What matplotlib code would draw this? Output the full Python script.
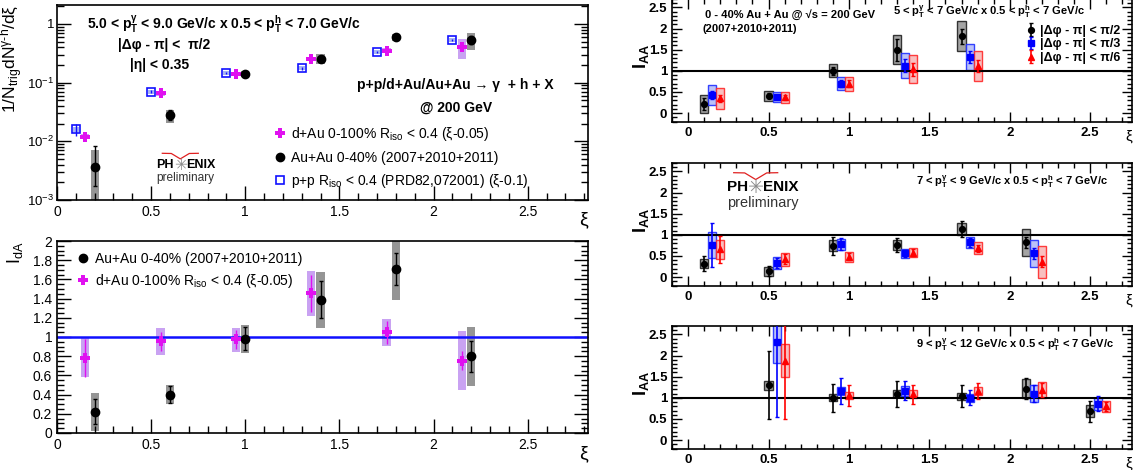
import numpy as np
import matplotlib.pyplot as plt
from matplotlib.lines import Line2D
from matplotlib.ticker import MultipleLocator, LogLocator, NullFormatter

plt.rcParams['font.family'] = ['Liberation Sans', 'DejaVu Sans']
plt.rcParams['mathtext.fontset'] = 'custom'
plt.rcParams['mathtext.rm'] = 'Liberation Sans'
plt.rcParams['mathtext.it'] = 'Liberation Sans'
plt.rcParams['mathtext.bf'] = 'Liberation Sans:bold'
plt.rcParams['mathtext.default'] = 'regular'

W, H = 1139, 470

# ---------- top-left: per-trigger yields ----------
pp_xi = [0.1, 0.5, 0.9, 1.3, 1.7, 2.1]
pp_y = [0.016, 0.070, 0.144, 0.175, 0.336, 0.53]
pp_err = [0.0035, 0.004, 0.006, 0.008, 0.012, 0.02]
pp_sys_lo = [0.0145, 0.064, 0.133, 0.162, 0.31, 0.49]
pp_sys_hi = [0.0175, 0.076, 0.156, 0.19, 0.365, 0.575]

dau_xi = [0.15, 0.55, 0.95, 1.35, 1.75, 2.15]
dau_y = [0.0119, 0.0654, 0.140, 0.252, 0.350, 0.400]
dau_err = [0.001, 0.004, 0.006, 0.01, 0.015, 0.04]
dau_sys_lo = [0.0108, 0.060, 0.130, 0.232, 0.320, 0.25]
dau_sys_hi = [0.0131, 0.071, 0.151, 0.274, 0.382, 0.55]

auau_xi = [0.2, 0.6, 1.0, 1.4, 1.8, 2.2]
auau_y = [0.0037, 0.0278, 0.140, 0.250, 0.590, 0.530]
auau_err_lo = [0.0020, 0.0050, 0.008, 0.020, 0.040, 0.08]
auau_err_hi = [0.0046, 0.0060, 0.010, 0.025, 0.050, 0.10]
auau_sys_lo = [0.0007, 0.0206, 0.125, 0.207, 0.52, 0.36]
auau_sys_hi = [0.0072, 0.0340, 0.156, 0.307, 0.67, 0.70]

# ---------- bottom-left: I_dA ----------
ida_au = [0.22, 0.40, 0.98, 1.39, 1.71, 0.80]
ida_au_stat = [0.13, 0.09, 0.12, 0.19, 0.17, 0.16]
ida_au_sys_lo = [0.02, 0.30, 0.83, 1.09, 1.39, 0.485]
ida_au_sys_hi = [0.42, 0.50, 1.13, 1.68, 2.05, 1.10]
ida_dau = [0.78, 0.955, 0.975, 1.455, 1.05, 0.754]
ida_dau_stat = [0.20, 0.10, 0.10, 0.195, 0.12, 0.10]
ida_dau_sys_lo = [0.58, 0.81, 0.845, 1.22, 0.905, 0.443]
ida_dau_sys_hi = [0.99, 1.095, 1.095, 1.69, 1.19, 1.06]

# ---------- right: I_AA for three trigger pT bins ----------
xi_57 = [0.1, 0.5, 0.9, 1.3, 1.7]
iaa_57_pi2 = [0.21, 0.41, 1.00, 1.50, 1.82]
iaa_57_pi2_stat = [0.14, 0.06, 0.10, 0.26, 0.18]
iaa_57_pi2_sys = [0.21, 0.12, 0.155, 0.34, 0.355]
iaa_57_pi3 = [0.43, 0.39, 0.70, 1.12, 1.32]
iaa_57_pi3_stat = [0.09, 0.05, 0.08, 0.15, 0.14]
iaa_57_pi3_sys = [0.235, 0.115, 0.15, 0.295, 0.305]
iaa_57_pi6 = [0.35, 0.37, 0.70, 1.04, 1.11]
iaa_57_pi6_stat = [0.09, 0.05, 0.09, 0.15, 0.14]
iaa_57_pi6_sys = [0.25, 0.13, 0.165, 0.325, 0.35]

xi_79 = [0.1, 0.5, 0.9, 1.3, 1.7, 2.1]
iaa_79_pi2 = [0.32, 0.14, 0.74, 0.76, 1.14, 0.82]
iaa_79_pi2_stat = [0.18, 0.12, 0.22, 0.17, 0.19, 0.14]
iaa_79_pi2_sys = [0.115, 0.11, 0.13, 0.12, 0.14, 0.32]
iaa_79_pi3 = [0.76, 0.34, 0.78, 0.56, 0.82, 0.56]
iaa_79_pi3_stat = [0.53, 0.12, 0.15, 0.08, 0.11, 0.12]
iaa_79_pi3_sys = [0.30, 0.14, 0.13, 0.11, 0.14, 0.31]
iaa_79_pi6 = [0.66, 0.42, 0.48, 0.58, 0.68, 0.36]
iaa_79_pi6_stat = [0.32, 0.12, 0.08, 0.09, 0.08, 0.13]
iaa_79_pi6_sys = [0.22, 0.16, 0.12, 0.11, 0.14, 0.38]

xi_912 = [0.5, 0.9, 1.3, 1.7, 2.1, 2.5]
iaa_912_pi2 = [1.30, 1.00, 1.10, 1.04, 1.22, 0.68]
iaa_912_pi2_stat = [0.80, 0.33, 0.31, 0.26, 0.25, 0.24]
iaa_912_pi2_sys = [0.11, 0.08, 0.08, 0.085, 0.23, 0.14]
iaa_912_pi3 = [2.32, 1.16, 1.17, 1.00, 1.10, 0.86]
iaa_912_pi3_stat = [1.78, 0.30, 0.23, 0.18, 0.20, 0.18]
iaa_912_pi3_sys = [0.50, 0.09, 0.115, 0.09, 0.20, 0.14]
iaa_912_pi6 = [1.88, 1.06, 1.08, 1.16, 1.18, 0.80]
iaa_912_pi6_stat = [1.38, 0.25, 0.22, 0.18, 0.16, 0.11]
iaa_912_pi6_sys = [0.39, 0.08, 0.095, 0.10, 0.19, 0.13]

MAG = '#e010f0'
MAG_BOX = '#c9a2f2'
GRAY_BOX = '#959595'


def fx(px):
    return px / W


def fy(py):
    return 1 - py / H


def ax_rect(left, top, right, bottom):
    return [fx(left), fy(bottom), (right - left) / W, (bottom - top) / H]


def root_ticks(ax, major, minor, top=False):
    ax.tick_params(which='both', direction='in', right=True, top=top, width=1)
    ax.tick_params(which='major', length=major)
    ax.tick_params(which='minor', length=minor)
    for s in ax.spines.values():
        s.set_linewidth(1.2)


def sys_boxes(ax, x, lo, hi, width, face, edge='none', lw=0, alpha=1.0):
    lo = np.asarray(lo)
    hi = np.asarray(hi)
    ax.bar(x, hi - lo, bottom=lo, width=width, color=face, alpha=alpha,
           edgecolor=edge, linewidth=lw, zorder=1)


def phenix_logo(px, py, size):
    # px = right edge of "PH", py = text centre line (pixels)
    sx = px + size * 0.7
    fig.text(fx(px), fy(py), 'PH', fontsize=size, fontweight='bold', ha='right', va='center')
    fig.text(fx(sx), fy(py), '\u2733', fontsize=size * 1.25, color='#8a8a8a',
             ha='center', va='center', family=['DejaVu Sans'])
    fig.text(fx(sx + size * 0.65), fy(py), 'ENIX', fontsize=size, fontweight='bold', ha='left', va='center')
    fig.text(fx(px - size * 1.95), fy(py + size * 1.5), 'preliminary', fontsize=size * 0.95,
             color='#333333', ha='left', va='center')
    wing_x = [sx - size * 2.0, sx - size * 1.0, sx, sx + size * 1.0, sx + size * 2.0]
    wing_y = [py - size * 1.3, py - size * 1.28, py - size * 0.68, py - size * 1.28, py - size * 1.3]
    fig.add_artist(Line2D([fx(v) for v in wing_x], [fy(v) for v in wing_y],
                          color='#e02020', lw=0.9, transform=fig.transFigure))


fig = plt.figure(figsize=(W / 100, H / 100), dpi=100)

# ================= top-left =================
ax1 = fig.add_axes(ax_rect(57, 5, 588, 200))
ax1.set_yscale('log')
sys_boxes(ax1, pp_xi, pp_sys_lo, pp_sys_hi, 0.035, '#a8b6f2')
sys_boxes(ax1, dau_xi, dau_sys_lo, dau_sys_hi, 0.044, MAG_BOX)
sys_boxes(ax1, auau_xi, auau_sys_lo, auau_sys_hi, 0.044, GRAY_BOX)
ax1.errorbar(pp_xi, pp_y, yerr=pp_err, fmt='s', mfc='none', mec='#1010ff', ecolor='#1010ff',
             ms=6, mew=1.2, elinewidth=1, capsize=0, zorder=3)
ax1.errorbar(dau_xi, dau_y, yerr=dau_err, fmt='P', color=MAG, ms=7, mew=0,
             elinewidth=1, capsize=0, zorder=3)
ax1.errorbar(auau_xi, auau_y, yerr=[auau_err_lo, auau_err_hi], fmt='o', color='k',
             ms=6, elinewidth=1, capsize=1.5, zorder=3)
ax1.set_xlim(0, 2.82)
ax1.set_ylim(1e-3, 2.1)
ax1.xaxis.set_minor_locator(MultipleLocator(0.1))
ax1.yaxis.set_minor_locator(LogLocator(base=10, subs=np.arange(2, 10), numticks=10))
ax1.yaxis.set_minor_formatter(NullFormatter())
ax1.set_xticks([0, 0.5, 1, 1.5, 2, 2.5], ['0', '0.5', '1', '1.5', '2', '2.5'])
ax1.set_yticks([1e-3, 1e-2, 1e-1, 1], ['10$^{-3}$', '10$^{-2}$', '10$^{-1}$', '1'])
ax1.tick_params(axis='x', labelsize=10)
ax1.tick_params(axis='y', labelsize=9.5, pad=2)
root_ticks(ax1, 10, 5)
ax1.set_ylabel(r'1/N$_{trig}$dN$^{\gamma\text{-}h}$/d$\xi$', fontsize=12.5, loc='top')
ax1.yaxis.set_label_coords(-0.06, 1.0)
ax1.set_xlabel('\u03be', fontsize=14, loc='right')
ax1.xaxis.set_label_coords(1.0, -0.06)

h_dau = Line2D([], [], marker='P', color=MAG, ls='none', ms=7, mew=0)
h_au = Line2D([], [], marker='o', color='k', ls='none', ms=6)
h_pp = Line2D([], [], marker='s', mfc='none', mec='#1010ff', ls='none', ms=6, mew=1.2)
ax1.legend([h_dau, h_au, h_pp],
           ['d+Au 0-100% R$_{iso}$ < 0.4 (\u03be-0.05)',
            'Au+Au 0-40% (2007+2010+2011)',
            'p+p R$_{iso}$ < 0.4 (PRD82,072001) (\u03be-0.1)'],
           loc='upper left', bbox_to_anchor=(fx(275), fy(125)), bbox_transform=fig.transFigure,
           frameon=False, fontsize=10, handlelength=0.7, handletextpad=0.45,
           borderpad=0, borderaxespad=0, labelspacing=0.55)

fig.text(fx(87), fy(24), r'5.0 < p$_\mathbf{T}^{\gamma}$ < 9.0 GeV/c x 0.5 < p$_\mathbf{T}^\mathbf{h}$ < 7.0 GeV/c',
         fontsize=10, fontweight='bold', va='center')
fig.text(fx(118), fy(45), '|\u0394\u03c6 - \u03c0| <  \u03c0/2', fontsize=10, fontweight='bold', va='center')
fig.text(fx(130), fy(65), '|\u03b7| < 0.35', fontsize=10, fontweight='bold', va='center')
fig.text(fx(357), fy(85), 'p+p/d+Au/Au+Au \u2192 \u03b3  + h + X', fontsize=10,
         fontweight='bold', va='center')
fig.text(fx(420), fy(108), '@ 200 GeV', fontsize=10, fontweight='bold', va='center')
phenix_logo(174, 165, 9)

# ================= bottom-left =================
ax2 = fig.add_axes(ax_rect(57, 241, 588, 433))
ax2.axhline(1, color='#1010ff', lw=1.8, zorder=2)
sys_boxes(ax2, dau_xi, ida_dau_sys_lo, ida_dau_sys_hi, 0.044, MAG_BOX)
sys_boxes(ax2, auau_xi, ida_au_sys_lo, ida_au_sys_hi, 0.044, GRAY_BOX)
ax2.errorbar(auau_xi, ida_au, yerr=ida_au_stat, fmt='o', color='k', ms=6,
             elinewidth=1, capsize=1.5, zorder=3)
ax2.errorbar(dau_xi, ida_dau, yerr=ida_dau_stat, fmt='P', color=MAG, ms=7, mew=0,
             elinewidth=1, capsize=1.5, zorder=3)
ax2.set_xlim(0, 2.82)
ax2.set_ylim(0, 2.0)
ax2.xaxis.set_minor_locator(MultipleLocator(0.1))
ax2.yaxis.set_minor_locator(MultipleLocator(0.05))
ax2.set_xticks([0, 0.5, 1, 1.5, 2, 2.5], ['0', '0.5', '1', '1.5', '2', '2.5'])
ax2.set_yticks(np.arange(0, 2.01, 0.2), ['0', '0.2', '0.4', '0.6', '0.8', '1', '1.2', '1.4',
                                          '1.6', '1.8', '2'])
ax2.tick_params(labelsize=10)
root_ticks(ax2, 10, 5)
ax2.set_ylabel('I$_{dA}$', fontsize=13, loc='top')
ax2.yaxis.set_label_coords(-0.06, 1.0)
ax2.set_xlabel('\u03be', fontsize=14, loc='right')
ax2.xaxis.set_label_coords(1.0, -0.065)
ax2.legend([h_au, h_dau],
           ['Au+Au 0-40% (2007+2010+2011)', 'd+Au 0-100% R$_{iso}$ < 0.4 (\u03be-0.05)'],
           loc='upper left', bbox_to_anchor=(fx(78), fy(252)), bbox_transform=fig.transFigure,
           frameon=False, fontsize=10, handlelength=0.7, handletextpad=0.5,
           borderpad=0, borderaxespad=0, labelspacing=0.45)

# ================= right panels =================
STYLES = [
    (0.0, 'o', 'k', '#9a9a9a', '#222222'),
    (0.05, 's', '#0000ff', '#b4bcf8', '#2030ff'),
    (0.10, '^', '#ff0000', '#f8b8b8', '#ff2a2a'),
]


def iaa_panel(rect, xi, vals, stats, syss):
    ax = fig.add_axes(rect)
    ax.axhline(1, color='k', lw=1.5, zorder=2)
    conts = []
    for (dx, mk, col, face, edge), v, st, sy in zip(STYLES, vals, stats, syss):
        x = np.asarray(xi) + dx
        v = np.asarray(v)
        sy = np.asarray(sy)
        sys_boxes(ax, x, v - sy, v + sy, 0.05, face, edge=edge, lw=1.0, alpha=0.9)
        c = ax.errorbar(x, v, yerr=st, fmt=mk, color=col, ms=4.2, elinewidth=1.2,
                        capsize=1.5, zorder=3)
        conts.append(c)
    ax.set_xlim(-0.1, 2.76)
    ax.set_ylim(-0.21, 2.7)
    ax.xaxis.set_minor_locator(MultipleLocator(0.1))
    ax.yaxis.set_minor_locator(MultipleLocator(0.1))
    ax.set_xticks([0, 0.5, 1, 1.5, 2, 2.5], ['0', '0.5', '1', '1.5', '2', '2.5'],
                  fontweight='bold', fontsize=9.5)
    ax.set_yticks([0, 0.5, 1, 1.5, 2, 2.5], ['0', '0.5', '1', '1.5', '2', '2.5'],
                  fontweight='bold', fontsize=9.5)
    root_ticks(ax, 7, 3.5, top=True)
    ax.text(-0.068, 0.53, r'I$_\mathbf{AA}$', transform=ax.transAxes, rotation=90,
            fontsize=13, fontweight='bold', ha='center', va='center')
    ax.set_xlabel('\u03be', fontsize=11, loc='right')
    ax.xaxis.set_label_coords(1.0, -0.06)
    return ax, conts


r1, conts = iaa_panel(ax_rect(672, -1, 1132, 122), xi_57,
                      [iaa_57_pi2, iaa_57_pi3, iaa_57_pi6],
                      [iaa_57_pi2_stat, iaa_57_pi3_stat, iaa_57_pi6_stat],
                      [iaa_57_pi2_sys, iaa_57_pi3_sys, iaa_57_pi6_sys])
r2, _ = iaa_panel(ax_rect(672, 163, 1132, 286), xi_79,
                  [iaa_79_pi2, iaa_79_pi3, iaa_79_pi6],
                  [iaa_79_pi2_stat, iaa_79_pi3_stat, iaa_79_pi6_stat],
                  [iaa_79_pi2_sys, iaa_79_pi3_sys, iaa_79_pi6_sys])
r3, _ = iaa_panel(ax_rect(672, 326, 1132, 449), xi_912,
                  [iaa_912_pi2, iaa_912_pi3, iaa_912_pi6],
                  [iaa_912_pi2_stat, iaa_912_pi3_stat, iaa_912_pi6_stat],
                  [iaa_912_pi2_sys, iaa_912_pi3_sys, iaa_912_pi6_sys])

r1.legend(conts, ['|\u0394\u03c6 - \u03c0| < \u03c0/2', '|\u0394\u03c6 - \u03c0| < \u03c0/3',
                  '|\u0394\u03c6 - \u03c0| < \u03c0/6'],
          loc='upper left', bbox_to_anchor=(fx(1027), fy(25)), bbox_transform=fig.transFigure,
          frameon=False, handlelength=0.7, handletextpad=0.35, borderpad=0, borderaxespad=0,
          labelspacing=0.12, prop={'weight': 'bold', 'size': 9})

fig.text(fx(705), fy(15), '0 - 40% Au + Au @ \u221as = 200 GeV', fontsize=8, fontweight='bold', va='center')
fig.text(fx(703), fy(29), '(2007+2010+2011)', fontsize=8, fontweight='bold', va='center')
fig.text(fx(893), fy(12), r'5 < p$_\mathbf{T}^{\gamma}$ < 7 GeV/c x 0.5 < p$_\mathbf{T}^\mathbf{h}$ < 7 GeV/c',
         fontsize=8, fontweight='bold', va='center')
fig.text(fx(916), fy(182), r'7 < p$_\mathbf{T}^{\gamma}$ < 9 GeV/c x 0.5 < p$_\mathbf{T}^\mathbf{h}$ < 7 GeV/c',
         fontsize=8, fontweight='bold', va='center')
fig.text(fx(916), fy(345), r'9 < p$_\mathbf{T}^{\gamma}$ < 12 GeV/c x 0.5 < p$_\mathbf{T}^\mathbf{h}$ < 7 GeV/c',
         fontsize=8, fontweight='bold', va='center')
phenix_logo(748, 187, 11)

fig.savefig('out.png', dpi=100)
